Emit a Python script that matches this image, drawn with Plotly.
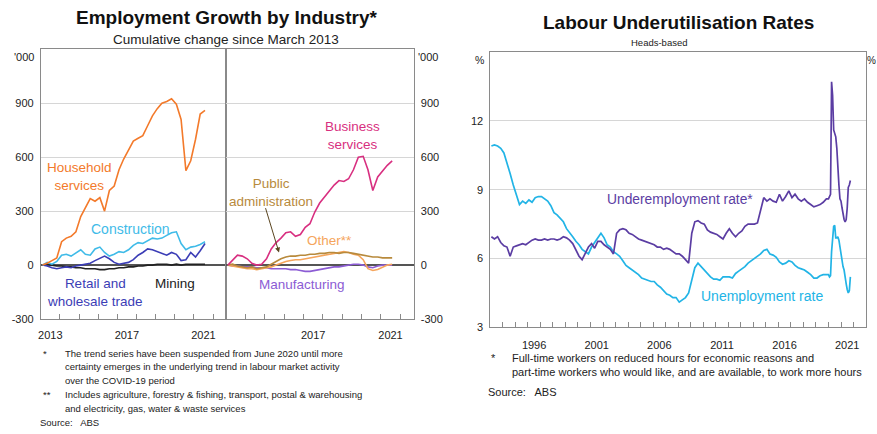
import pandas as pd
import plotly.graph_objects as go

W, H = 877, 434
FONT = "Liberation Sans, Arial, sans-serif"

# ---------------- Employment growth by industry ('000, cumulative since March 2013)
emp_dates = pd.date_range("2013-02-01", periods=35, freq="3MS")

household = [0, 10, 25, 40, 130, 150, 160, 185, 270, 320,
             370, 355, 375, 300, 415, 440, 530, 590, 640, 690,
             705, 720, 775, 830, 870, 900, 910, 925, 895, 810,
             525, 580, 700, 840, 860]
construction = [0, 15, 5, 20, 55, 60, 50, 70, 85, 60,
                55, 90, 100, 70, 50, 60, 75, 70, 85, 110,
                125, 120, 135, 150, 145, 150, 165, 180, 185, 120,
                85, 100, 105, 115, 130]
retail = [0, -5, -15, -20, -15, -10, -15, -5, 0, 5,
          10, 25, 40, 50, 35, 15, 5, 10, 15, 30,
          55, 70, 90, 85, 75, 65, 55, 70, 60, 25,
          30, 70, 45, 80, 120]
mining = [0, 5, 0, -5, -5, -10, -10, -15, -15, -20,
          -20, -20, -25, -25, -20, -20, -15, -15, -10, -10,
          -5, -5, 0, 0, 5, 5, 5, 0, 5, 0,
          5, 5, 5, 5, 5]
business = [0, 30, 55, 50, 35, 10, 0, 5, 35, 90,
            125, 150, 180, 185, 160, 170, 210, 230, 295, 345,
            380, 415, 445, 470, 465, 480, 530, 600, 605, 530,
            415, 490, 525, 555, 580]
public_admin = [0, 5, -5, -10, -15, -10, -20, -15, -10, 5,
                20, 35, 45, 50, 50, 55, 55, 60, 60, 65,
                65, 70, 70, 65, 70, 70, 65, 60, 55, 50,
                45, 45, 40, 40, 40]
other = [0, -5, -10, -15, -20, -20, -25, -20, -15, -10,
         0, 10, 20, 25, 30, 30, 35, 40, 45, 50,
         55, 60, 65, 70, 75, 70, 60, 55, 30, -20,
         -30, -25, -10, 0, 5]
manufacturing = [0, -5, -5, -10, -10, -10, -15, -15, -15, -20,
                 -20, -20, -20, -25, -25, -30, -35, -35, -30, -25,
                 -20, -15, -10, -10, -5, 0, 5, 5, 0, -10,
                 -15, -5, 0, 0, 0]

emp_ticks = [-300, 0, 300, 600, 900]
left_years = ["2013", "2017", "2021"]
right_years = ["2017", "2021"]

# ---------------- Labour underutilisation rates (%)
rate_dates = list(pd.date_range("1993-02-01", "2019-11-01", freq="3MS")) + \
             list(pd.date_range("2020-01-01", "2021-10-01", freq="MS"))

unemployment = [
    10.9, 10.95, 10.9, 10.8,   10.6, 10.2, 9.7, 9.2,     8.8, 8.35, 8.5, 8.4,
    8.55, 8.45, 8.65, 8.7,     8.7, 8.6, 8.5, 8.3,       8.0, 7.9, 7.75, 7.6,
    7.3, 7.1, 6.95, 6.75,      6.6, 6.4, 6.3, 6.2,       6.5, 6.7, 6.9, 7.1,
    6.9, 6.6, 6.5, 6.3,        6.2, 6.1, 5.9, 5.7,       5.6, 5.5, 5.4, 5.3,
    5.15, 5.1, 5.05, 5.0,      5.0, 4.85, 4.75, 4.6,     4.45, 4.4, 4.3, 4.3,
    4.1, 4.2, 4.3, 4.5,        5.1, 5.6, 5.8, 5.65,      5.5, 5.35, 5.2, 5.1,
    5.1, 5.05, 5.2, 5.2,       5.2, 5.15, 5.35, 5.45,    5.55, 5.65, 5.8, 5.9,
    6.0, 6.1, 6.2, 6.35,       6.4, 6.2, 6.15, 6.05,     5.85, 5.75, 5.8, 5.9,
    5.85, 5.7, 5.6, 5.55,      5.5, 5.4, 5.3, 5.15,      5.15, 5.25, 5.3, 5.3,
    # monthly, 2020-21
    5.3, 5.2, 5.25, 6.3, 7.1, 7.4, 7.45, 6.9, 6.9, 6.95, 6.8, 6.5,
    6.3, 5.8, 5.65, 5.5, 5.1, 4.9, 4.65, 4.5, 4.6, 5.2,
]
underemployment = [
    6.95, 6.85, 6.95, 6.7,     6.55, 6.5, 6.1, 6.5,      6.55, 6.6, 6.65, 6.6,
    6.7, 6.8, 6.85, 6.8,       6.8, 6.85, 6.8, 6.85,     6.85, 6.8, 6.85, 6.95,
    6.9, 6.8, 6.65, 6.4,       6.1, 5.95, 6.2, 6.5,      6.65, 6.45, 6.75, 6.75,
    6.6, 6.5, 6.4, 6.2,        7.1, 7.25, 7.3, 7.25,     7.1, 7.05, 6.95, 6.85,
    6.8, 6.75, 6.7, 6.65,      6.6, 6.5, 6.5, 6.4,       6.45, 6.4, 6.3, 6.2,
    6.2, 6.1, 5.95, 5.8,       7.1, 7.6, 7.65, 7.55,     7.5, 7.25, 7.15, 7.1,
    7.05, 6.95, 6.85, 7.1,     7.3, 7.1, 6.95, 7.1,      7.2, 7.4, 7.5, 7.5,
    7.5, 7.55, 8.1, 8.65,      8.5, 8.6, 8.5, 8.45,      8.8, 8.5, 8.7, 8.95,
    8.65, 8.8, 8.6, 8.5,       8.6, 8.45, 8.35, 8.25,    8.3, 8.35, 8.45, 8.6,
    # monthly, 2020-21
    8.6, 8.7, 8.8, 13.7, 13.1, 11.6, 11.4, 11.3, 10.8, 9.6, 9.2, 8.6,
    8.5, 8.2, 7.9, 7.7, 7.6, 7.7, 8.2, 9.1, 9.2, 9.4,
]
rate_ticks = [3, 6, 9, 12]
rate_years = ["1996", "2001", "2006", "2011", "2016", "2021"]

# ---------------- colours
C_HOUSE = "#f37a2b"
C_CONS = "#3fbbe8"
C_RETAIL = "#3b3db6"
C_MINING = "#222222"
C_BUS = "#d82f80"
C_PUB = "#b88a3c"
C_OTHER = "#f5a55c"
C_MANU = "#8c5cd4"
C_UNDER = "#5b3da3"
C_UNEMP = "#22b4e6"
GRID = "#d6d6d6"
FRAME = "#8a8a8a"


def px(x):
    return x / W


def py(y):
    return 1 - y / H


fig = go.Figure()


def add_line(x, y, color, xa, ya, width=1.6):
    fig.add_trace(go.Scatter(x=x, y=y, mode="lines", xaxis=xa, yaxis=ya,
                             line=dict(color=color, width=width),
                             hoverinfo="skip", showlegend=False))


# left panel
add_line(emp_dates, mining, C_MINING, "x", "y")
add_line(emp_dates, retail, C_RETAIL, "x", "y")
add_line(emp_dates, construction, C_CONS, "x", "y")
add_line(emp_dates, household, C_HOUSE, "x", "y")
# right panel
add_line(emp_dates, manufacturing, C_MANU, "x2", "y2")
add_line(emp_dates, other, C_OTHER, "x2", "y2")
add_line(emp_dates, public_admin, C_PUB, "x2", "y2")
add_line(emp_dates, business, C_BUS, "x2", "y2")
# rates
add_line(rate_dates, unemployment, C_UNEMP, "x3", "y3", 1.7)
add_line(rate_dates, underemployment, C_UNDER, "x3", "y3", 1.7)

emp_range = ["2013-01-01", "2022-09-10"]
tick_font = dict(family=FONT, size=11, color="#222")


def year_axis(domain, rng, labels, first, last, anchor, standoff):
    return dict(
        domain=domain, range=rng, type="date", anchor=anchor,
        tickmode="array",
        tickvals=[f"{y}-07-01" for y in labels],
        ticktext=labels, ticks="", tickfont=tick_font,
        ticklabelstandoff=standoff,
        showgrid=False, zeroline=False,
        showline=True, mirror=True, linecolor=FRAME, linewidth=1,
        minor=dict(tickmode="array",
                   tickvals=[f"{y}-01-01" for y in range(first, last + 1)],
                   ticks="inside", ticklen=5, tickcolor=FRAME, tickwidth=1,
                   showgrid=False),
    )


def value_axis(domain, rng, vals, side, anchor, overlay=None, zero=False):
    d = dict(
        domain=domain, range=rng, anchor=anchor, side=side,
        tickmode="array", tickvals=vals, ticktext=[str(v) for v in vals],
        ticks="", tickfont=tick_font, ticklabelstandoff=4,
        showgrid=True, gridcolor=GRID, gridwidth=1,
        zeroline=zero, zerolinecolor="#555555", zerolinewidth=1.6,
        showline=True, mirror=True, linecolor=FRAME, linewidth=1,
    )
    if overlay:
        d.update(overlaying=overlay, showgrid=False, zeroline=False)
    return d


emp_ydom = [py(323.5), py(50)]
rate_ydom = [py(332), py(52.6)]

fig.update_layout(
    width=W, height=H, margin=dict(l=0, r=0, t=0, b=0),
    paper_bgcolor="white", plot_bgcolor="white",
    font=dict(family=FONT, color="#222"),
    showlegend=False,
    xaxis=year_axis([px(38), px(224)], emp_range, left_years, 2014, 2022, "y", 6),
    yaxis=value_axis(emp_ydom, [-300, 1200], emp_ticks, "left", "x", zero=True),
    xaxis2=year_axis([px(224), px(412)], emp_range, right_years, 2014, 2022, "y2", 6),
    yaxis2=value_axis(emp_ydom, [-300, 1200], emp_ticks, "right", "x2", zero=True),
    xaxis3=year_axis([px(489), px(866)], ["1993-01-01", "2023-01-01"],
                     rate_years, 1994, 2022, "y3", 7),
    yaxis3=value_axis(rate_ydom, [3, 15], rate_ticks, "left", "x3"),
    yaxis4=value_axis(rate_ydom, [3, 15], rate_ticks, "right", "x3", overlay="y3"),
)

ann = []


def text_px(x, y, t, size, color="#222", bold=False, xanchor="center"):
    ann.append(dict(x=px(x), y=py(y), xref="paper", yref="paper", text=t,
                    showarrow=False, xanchor=xanchor, yanchor="middle",
                    borderpad=0,
                    font=dict(family=FONT, size=size, color=color,
                              weight="bold" if bold else "normal")))


def label(x, y, t, color, xa, ya, size=13.5):
    ann.append(dict(x=x, y=y, xref=xa, yref=ya, text=t, showarrow=False,
                    xanchor="center", yanchor="middle",
                    font=dict(family=FONT, size=size, color=color)))


# titles
text_px(224, 18, "Employment Growth by Industry*", 19, "#111", bold=True)
text_px(224, 40, "Cumulative change since March 2013", 13.5)
text_px(678, 23, "Labour Underutilisation Rates", 19, "#111", bold=True)
text_px(659, 43, "Heads-based", 9.5)

# unit labels
text_px(21, 58, "'000", 11)
text_px(426, 58, "'000", 11)
text_px(478, 61, "%", 10.5)
text_px(871, 61, "%", 10)

# series labels, left chart
label("2015-01-10", 495, "Household<br>services", C_HOUSE, "x", "y")
label("2017-09-10", 198, "Construction", C_CONS, "x", "y", 14)
label("2015-10-25", -150, "Retail and<br>wholesale trade", C_RETAIL, "x", "y")
label("2020-01-01", -105, "Mining", C_MINING, "x", "y")
label("2019-07-20", 720, "Business<br>services", C_BUS, "x2", "y2")
label("2015-04-25", 405, "Public<br>administration", C_PUB, "x2", "y2")
label("2018-05-15", 138, "Other**", C_OTHER, "x2", "y2")
label("2016-12-05", -110, "Manufacturing", C_MANU, "x2", "y2")
ann.append(dict(x="2015-09-25", y=70, xref="x2", yref="y2",
                ax="2015-01-05", ay=325, axref="x2", ayref="y2",
                showarrow=True, arrowhead=2, arrowsize=1, arrowwidth=1,
                arrowcolor="#5a4520", text=""))

# series labels, right chart
label("2008-02-15", 8.55, "Underemployment rate*", C_UNDER, "x3", "y3", 13.8)
label("2014-09-20", 4.37, "Unemployment rate", C_UNEMP, "x3", "y3", 14)

# footnotes
fn = 9.5
text_px(39, 358, "*", fn, xanchor="left")
text_px(61, 358, "The trend series have been suspended from June 2020 until more", fn, xanchor="left")
text_px(61, 372, "certainty emerges in the underlying trend in labour market activity", fn, xanchor="left")
text_px(61, 386, "over the COVID-19 period", fn, xanchor="left")
text_px(39, 400, "**", fn, xanchor="left")
text_px(61, 400, "Includes agriculture, forestry &amp; fishing, transport, postal &amp; warehousing", fn, xanchor="left")
text_px(61, 414, "and electricity, gas, water &amp; waste services", fn, xanchor="left")
text_px(36, 428, "Source:   ABS", fn, xanchor="left")

fr = 11
text_px(489, 363, "*", fr, xanchor="left")
text_px(510, 363, "Full-time workers on reduced hours for economic reasons and", fr, xanchor="left")
text_px(510, 377, "part-time workers who would like, and are available, to work more hours", fr, xanchor="left")
text_px(486, 397, "Source:   ABS", fr, xanchor="left")

fig.update_layout(annotations=ann)
fig.write_html("out.html")
